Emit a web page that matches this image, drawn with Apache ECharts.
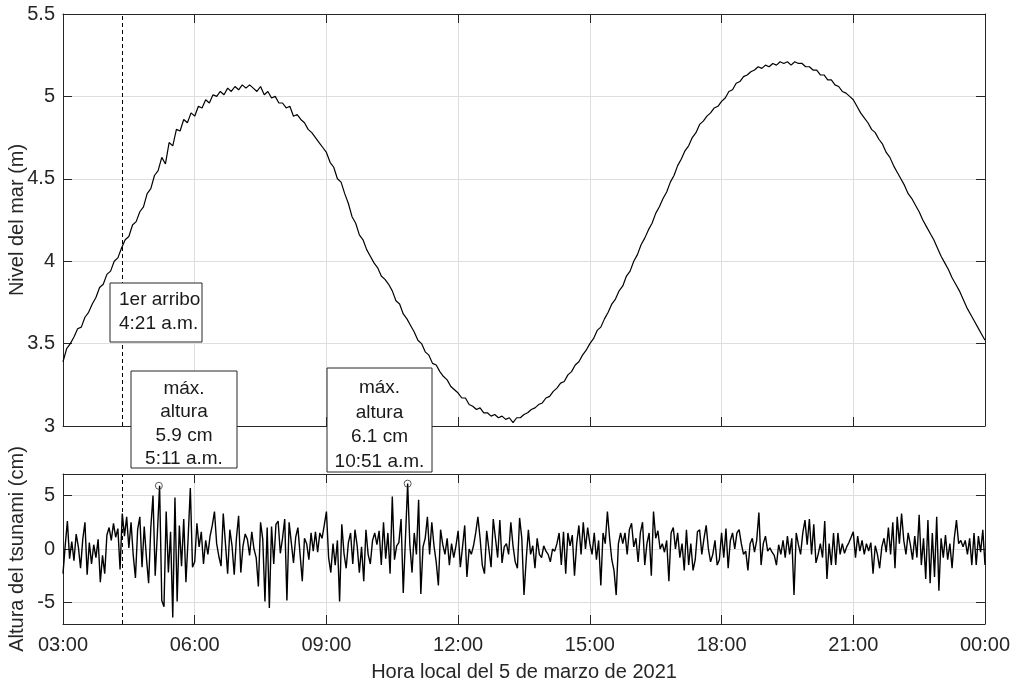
<!DOCTYPE html>
<html><head><meta charset="utf-8">
<script src="https://cdn.jsdelivr.net/npm/echarts@6/dist/echarts.min.js"></script>
<style>html,body{margin:0;padding:0;background:#fff}#c{width:1019px;height:685px}</style>
</head><body><div id="c"></div>
<script>
// ---- data ----
const xTickLabels = ['03:00','06:00','09:00','12:00','15:00','18:00','21:00','00:00'];
const xTickStepMin = 180;          // minutes between x ticks
const spanMin = 1260;              // 03:00 -> 00:00
const tideTicks = [3, 3.5, 4, 4.5, 5, 5.5];
const tsunamiTicks = [-5, 0, 5];

// sea level (m), one value every 5 minutes from 03:00
const tideStepMin = 5;
const tideLevel = [
 3.39,3.47,3.50,3.54,3.59,3.60,3.66,3.69,3.74,3.78,3.84,3.86,
 3.92,3.94,4.00,4.02,4.08,4.13,4.15,4.22,4.24,4.30,4.33,4.41,
 4.44,4.52,4.55,4.63,4.59,4.72,4.70,4.80,4.79,4.86,4.84,4.90,
 4.88,4.94,4.93,4.98,4.96,5.01,5.00,5.03,5.01,5.05,5.03,5.06,
 5.04,5.07,5.05,5.07,5.05,5.03,5.06,5.01,5.03,4.99,5.00,4.96,
 4.96,4.93,4.94,4.88,4.89,4.86,4.84,4.80,4.78,4.75,4.72,4.69,
 4.66,4.60,4.57,4.50,4.48,4.41,4.35,4.27,4.23,4.16,4.13,4.07,
 4.03,3.99,3.96,3.91,3.89,3.86,3.82,3.76,3.74,3.68,3.65,3.61,
 3.57,3.52,3.50,3.45,3.43,3.38,3.37,3.33,3.30,3.28,3.24,3.22,
 3.20,3.17,3.17,3.13,3.12,3.10,3.11,3.08,3.08,3.06,3.07,3.05,
 3.06,3.04,3.05,3.02,3.05,3.05,3.07,3.08,3.10,3.11,3.13,3.14,
 3.17,3.18,3.21,3.23,3.26,3.27,3.31,3.33,3.37,3.39,3.43,3.46,
 3.50,3.53,3.58,3.60,3.65,3.69,3.74,3.77,3.82,3.85,3.91,3.94,
 4.00,4.04,4.10,4.14,4.19,4.23,4.29,4.33,4.38,4.42,4.48,4.52,
 4.58,4.62,4.67,4.70,4.75,4.78,4.83,4.85,4.88,4.90,4.93,4.94,
 4.97,4.99,5.03,5.04,5.08,5.09,5.12,5.13,5.15,5.16,5.18,5.17,
 5.19,5.18,5.20,5.19,5.21,5.20,5.21,5.19,5.21,5.20,5.20,5.18,
 5.18,5.16,5.16,5.13,5.13,5.10,5.10,5.07,5.06,5.03,5.02,5.00,
 4.98,4.94,4.90,4.87,4.84,4.80,4.78,4.74,4.71,4.66,4.63,4.58,
 4.54,4.50,4.46,4.41,4.38,4.34,4.30,4.25,4.21,4.17,4.13,4.08,
 4.03,3.99,3.95,3.90,3.86,3.82,3.77,3.72,3.68,3.64,3.60,3.56,
 3.52
];

// tsunami height (cm), one value every 3 minutes from 03:00
const tsunamiStepMin = 3;
const tsunamiHeight = [
 -2.3,0.3,2.6,-0.9,0.7,-1.1,1.4,0.2,-1.8,0.9,2.5,-2.4,0.6,-1.4,0.4,-0.8,0.9,-3.1,-0.6,-2.3,
 1.3,2.0,0.8,2.4,1.1,1.9,-1.9,3.3,1.2,3.0,0.1,2.5,-0.6,-2.7,1.8,3.0,-1.7,2.1,-0.8,-3.2,
 2.0,5.0,-2.5,1.5,5.9,-4.8,-5.4,3.5,-2.2,1.6,-6.4,4.8,-4.9,2.2,-1.6,2.8,-3.1,1.0,5.7,-1.7,
 -1.2,2.4,0.2,1.6,-1.4,0.8,-0.5,1.2,2.2,3.5,0.5,-0.7,-1.6,3.3,0.5,-2.3,1.8,0.3,-2.4,1.0,
 3.1,-2.2,0.3,1.4,0.9,-0.6,1.6,0.0,-0.8,-3.5,2.5,0.9,-4.9,2.0,-5.5,2.1,-1.4,2.3,2.6,-0.4,
 1.0,2.8,-4.8,2.5,0.6,-1.3,1.1,2.0,-0.5,-3.0,1.0,0.5,-1.0,1.5,-0.2,1.6,-0.3,1.5,1.0,2.2,
 3.5,-0.8,-2.2,0.5,-1.5,0.8,-4.9,2.3,-0.4,-1.8,0.6,1.5,-1.4,1.8,0.3,-2.2,0.2,-3.0,1.8,-0.5,
 -1.4,0.8,1.5,0.4,1.7,-1.5,2.5,-0.9,1.5,-2.3,4.9,-1.0,0.3,0.6,2.8,-4.1,1.0,6.1,0.4,-2.2,
 1.5,-0.5,4.6,-4.2,0.2,1.0,3.0,-0.5,2.5,0.3,-1.2,-3.4,1.8,0.4,-0.5,1.0,-1.5,0.5,-0.8,0.3,
 1.7,-1.7,0.2,2.2,-2.6,0.0,-0.5,0.3,1.5,3.0,1.0,-1.5,-2.3,1.7,0.0,-1.7,2.8,1.0,-0.8,2.7,
 -1.3,0.2,0.5,-0.5,2.5,0.3,-1.2,-1.8,2.9,1.0,-4.3,-1.0,1.8,-0.5,0.3,-1.8,1.0,-0.5,-0.8,0.3,
 -0.2,-0.5,-1.2,0.0,-0.2,0.5,1.5,-1.5,1.6,-2.3,1.5,0.3,1.3,-2.5,0.5,2.2,-0.5,2.5,0.0,2.0,
 0.5,-0.5,1.5,-1.0,0.8,-3.4,1.5,0.5,3.5,1.0,-1.0,-2.0,-4.3,0.5,1.5,0.5,1.5,-0.5,1.8,2.4,
 0.2,1.0,-1.2,1.5,2.5,-1.5,0.5,1.5,-2.5,3.5,1.0,1.7,0.0,0.5,-0.3,0.8,-3.0,1.5,2.0,0.0,
 1.5,-0.8,0.5,-2.0,1.8,-1.5,0.5,-2.0,-1.0,1.6,1.8,-0.5,1.0,2.2,0.0,-1.2,-0.5,0.8,-1.5,-1.0,
 1.5,-0.8,1.9,-1.8,0.8,1.5,0.0,1.5,1.8,0.5,-0.5,-0.2,-2.0,0.5,1.0,-0.3,0.8,3.4,-1.5,0.5,
 1.2,-0.2,0.1,-0.3,-0.6,-1.5,0.4,-0.5,0.8,-0.8,1.2,-0.5,1.0,-4.3,1.5,0.4,-0.5,1.5,2.7,0.4,
 2.8,-0.5,2.3,-1.3,-0.5,0.5,-0.8,2.6,-2.8,0.5,-1.5,1.5,-1.5,1.5,-0.5,0.5,-0.4,0.2,0.6,1.1,
 1.6,-0.8,1.2,-0.2,0.8,-0.5,0.5,-0.2,0.6,-2.3,0.3,-0.5,-1.8,0.2,1.0,-0.3,2.0,-0.5,2.5,-1.8,
 3.0,0.5,3.3,0.8,-0.5,1.5,0.4,-1.0,1.2,-0.8,3.2,-1.5,1.0,-2.8,2.7,-3.2,1.5,-2.6,3.0,-3.9,
 1.0,-0.8,1.3,-1.0,0.5,-1.8,1.0,2.7,0.5,0.8,0.2,0.8,-0.5,1.0,-1.5,1.5,-1.5,1.2,-0.3,1.8,
 -1.5
];

const arrivalMin = [81];            // 4:21 a.m.
const peakMin = [131, 471];         // 5:11 a.m., 10:51 a.m.
const peakCm = [5.9, 6.1];
const noteTexts = ['1er arribo\n4:21 a.m.', 'máx.\naltura\n5.9 cm\n5:11 a.m.', 'máx.\naltura\n6.1 cm\n10:51 a.m.'];
const axisTitles = ['Nivel del mar (m)', 'Altura del tsunami (cm)', 'Hora local del 5 de marzo de 2021'];

// ---- chart ----
const FONT = '"Liberation Sans", Arial, Helvetica, sans-serif';
const AX = '#262626';
const GRIDC = '#dedede';
const chart = echarts.init(document.getElementById('c'), null, {renderer: 'canvas'});

function xAx(gridIndex, pos, labels, name) {
  return {
    type: 'value', gridIndex, position: pos, min: 0, max: spanMin, interval: xTickStepMin,
    axisLine: {show: true, onZero: false, lineStyle: {color: AX, width: 1}},
    axisTick: {show: true, inside: true, length: 9, lineStyle: {color: AX, width: 1}},
    axisLabel: {show: labels, margin: 11, color: AX, fontSize: 20, fontFamily: FONT,
      formatter: v => xTickLabels[Math.round(v / xTickStepMin)]},
    splitLine: {show: pos === 'bottom', lineStyle: {color: GRIDC, width: 1}},
    name: name || '', nameLocation: 'middle', nameGap: 38, nameMoveOverlap: false,
    nameTextStyle: {color: AX, fontSize: 20, fontFamily: FONT}
  };
}
function yAx(gridIndex, pos, labels, ticks, name) {
  return {
    type: 'value', gridIndex, position: pos, min: ticks.min, max: ticks.max,
    interval: ticks.interval,
    axisLine: {show: true, onZero: false, lineStyle: {color: AX, width: 1}},
    axisTick: {show: true, inside: true, length: 9, lineStyle: {color: AX, width: 1},
      customValues: ticks.values},
    axisLabel: {show: labels, margin: 8, color: AX, fontSize: 20, fontFamily: FONT,
      customValues: ticks.values, formatter: v => String(v)},
    splitLine: {show: pos === 'left', lineStyle: {color: GRIDC, width: 1}},
    name: name || '', nameLocation: 'middle', nameGap: 36, nameMoveOverlap: false,
    nameTextStyle: {color: AX, fontSize: 20, fontFamily: FONT}
  };
}
const topTicks = {min: 3, max: 5.5, interval: 0.5, values: tideTicks};
const botTicks = {min: -7, max: 7, values: tsunamiTicks};

const dashed = {
  silent: true, symbol: 'none', animation: false,
  label: {show: false},
  lineStyle: {color: '#000', width: 1, type: [4, 3]},
  data: arrivalMin.map(m => ({xAxis: m}))
};

function box(x, y, w, h, text, align, tx, ty, lh) {
  return {
    type: 'group', x, y, z: 100,
    children: [
      {type: 'rect', z: 100, shape: {x: 0, y: 0, width: w, height: h},
        style: {fill: '#fff', stroke: AX, lineWidth: 1}},
      {type: 'text', z: 101, x: tx, y: ty,
        style: {text, fill: '#1a1a1a', fontSize: 19, fontFamily: FONT, lineHeight: lh,
          align: align, verticalAlign: 'top'}}
    ]
  };
}

chart.setOption({
  animation: false,
  backgroundColor: '#fff',
  grid: [
    {left: 63, top: 14, width: 922, height: 412, outerBoundsMode: 'none', containLabel: false},
    {left: 63, top: 474, width: 922, height: 150, outerBoundsMode: 'none', containLabel: false}
  ],
  xAxis: [
    xAx(0, 'bottom', false), xAx(0, 'top', false),
    xAx(1, 'bottom', true, axisTitles[2]), xAx(1, 'top', false)
  ],
  yAxis: [
    yAx(0, 'left', true, topTicks, axisTitles[0]), yAx(0, 'right', false, topTicks),
    yAx(1, 'left', true, botTicks, axisTitles[1]), yAx(1, 'right', false, botTicks)
  ],
  series: [
    {type: 'line', xAxisIndex: 0, yAxisIndex: 0, showSymbol: false, symbol: 'none',
      data: tideLevel.map((v, i) => [i * tideStepMin, v]),
      lineStyle: {color: '#000', width: 1.2}, markLine: dashed, z: 5},
    {type: 'line', xAxisIndex: 2, yAxisIndex: 2, showSymbol: false, symbol: 'none',
      data: tsunamiHeight.map((v, i) => [i * tsunamiStepMin, v]),
      lineStyle: {color: '#000', width: 1.4}, markLine: dashed, z: 5},
    {type: 'scatter', xAxisIndex: 2, yAxisIndex: 2, symbol: 'circle', symbolSize: 7,
      data: peakMin.map((m, i) => [m, peakCm[i]]),
      itemStyle: {color: 'rgba(0,0,0,0)', borderColor: '#333', borderWidth: 1}, z: 6}
  ],
  graphic: [
    box(110, 283, 92, 59, noteTexts[0], 'left', 9, 5, 24),
    box(131, 371, 106, 97, noteTexts[1], 'center', 53, 6, 23.5),
    box(327, 368, 105, 104, noteTexts[2], 'center', 52.5, 8, 24.5)
  ]
});
</script></body></html>
